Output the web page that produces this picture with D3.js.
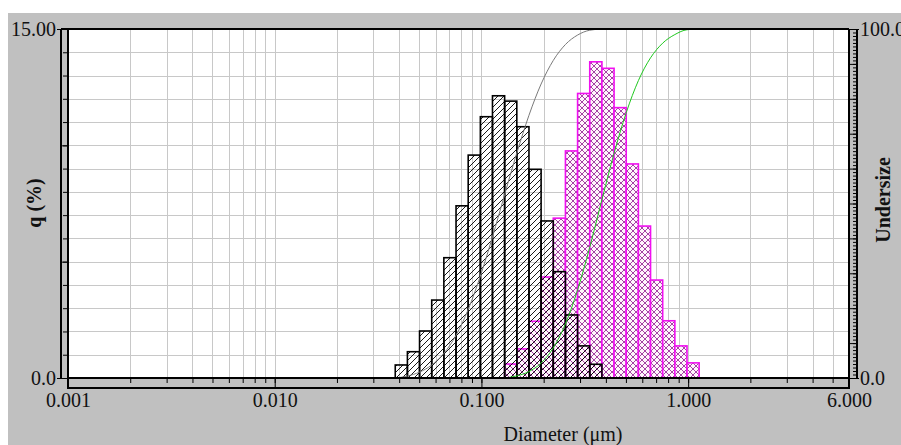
<!DOCTYPE html>
<html>
<head>
<meta charset="utf-8">
<script src="https://cdn.jsdelivr.net/npm/d3@7"></script>
<style>
  body { margin: 0; background: #fff; }
  text { font-family: "Liberation Serif", "Times New Roman", serif; }
</style>
</head>
<body>
<div id="chart"></div>
<script>
// bin edges of the size classes (um)
var binEdges = [0.03829, 0.04384, 0.05019, 0.05748, 0.06580, 0.07537, 0.08630, 0.09881,
  0.1131, 0.1295, 0.1483, 0.1698, 0.1944, 0.2226, 0.2549, 0.2919, 0.3342, 0.3827,
  0.4382, 0.5017, 0.5745, 0.6578, 0.7531, 0.8624, 0.9874, 1.1305];

// q (%) of the black (hatched) sample, starting at bin 0
var blackStart = 0;
var blackQ = [0.56, 1.13, 2.02, 3.35, 5.17, 7.40, 9.58, 11.23, 12.13, 11.90,
  10.80, 8.97, 6.75, 4.57, 2.71, 1.38, 0.59];

// q (%) of the magenta (cross hatched) sample, starting at bin 9
var magentaStart = 9;
var magentaQ = [0.60, 1.25, 2.44, 4.34, 6.87, 9.76, 12.23, 13.59, 13.31, 11.62,
  9.20, 6.53, 4.21, 2.46, 1.38, 0.65];

var xTickLabels = [0.001, 0.01, 0.1, 1, 6];

var W = 901, H = 445;
// note: "top" is taken by window.top, so plot box names are prefixed
var pLeft = 68, pRight = 849, pTop = 29, pBottom = 378;

var svg = d3.select("#chart").append("svg")
  .attr("width", W).attr("height", H);

svg.append("rect").attr("x", 8).attr("y", 13)
  .attr("width", W - 8).attr("height", H - 13).attr("fill", "#c0c0c0");
svg.append("rect").attr("x", pLeft).attr("y", pTop)
  .attr("width", pRight - pLeft).attr("height", pBottom - pTop).attr("fill", "#fff");

var x = d3.scaleLog().domain([0.001, 6]).range([pLeft, pRight]);
var yL = d3.scaleLinear().domain([0, 15]).range([pBottom, pTop]);
var yR = d3.scaleLinear().domain([0, 100]).range([pBottom, pTop]);

// patterns
var defs = svg.append("defs");
defs.append("pattern").attr("id", "hatch")
  .attr("patternUnits", "userSpaceOnUse").attr("width", 6).attr("height", 6)
  .append("path").attr("d", "M0,6L6,0M-1,1L1,-1M5,7L7,5")
  .attr("stroke", "#000").attr("stroke-width", 0.9);
var cross = defs.append("pattern").attr("id", "cross")
  .attr("patternUnits", "userSpaceOnUse").attr("width", 6).attr("height", 6);
cross.append("rect").attr("width", 6).attr("height", 6).attr("fill", "#fff6fc");
cross.append("path").attr("d", "M0,6L6,0M-1,1L1,-1M5,7L7,5M0,0L6,6M-1,5L1,7M5,-1L7,1")
  .attr("stroke", "#9a309a").attr("stroke-width", 0.9);

// grid
var grid = svg.append("g").attr("stroke", "#c8c8c8").attr("stroke-width", 1);
grid.selectAll(".gx").data(x.ticks()).enter().append("line")
  .attr("x1", function(d) { return Math.round(x(d)) + 0.5; })
  .attr("x2", function(d) { return Math.round(x(d)) + 0.5; })
  .attr("y1", pTop).attr("y2", pBottom);
grid.selectAll(".gy").data(d3.range(1, 15)).enter().append("line")
  .attr("y1", function(d) { return Math.round(yL(d)) + 0.5; })
  .attr("y2", function(d) { return Math.round(yL(d)) + 0.5; })
  .attr("x1", pLeft).attr("x2", pRight);

function bars(values, start, fill, stroke, sw) {
  svg.append("g").selectAll("rect")
    .data(values).enter().append("rect")
    .attr("x", function(d, i) { return x(binEdges[start + i]); })
    .attr("width", function(d, i) { return x(binEdges[start + i + 1]) - x(binEdges[start + i]); })
    .attr("y", function(d) { return yL(d); })
    .attr("height", function(d) { return pBottom - yL(d); })
    .attr("fill", fill).attr("stroke", stroke).attr("stroke-width", sw);
}
bars(magentaQ, magentaStart, "url(#cross)", "#f010f0", 1.6);
bars(blackQ, blackStart, "url(#hatch)", "#000", 1.6);

// cumulative undersize curves
function cumLine(values, start, color) {
  var cum = Array.from(d3.cumsum(values));
  var pts = [[binEdges[start], 0]].concat(cum.map(function(c, i) {
    return [binEdges[start + i + 1], Math.min(c, 100)];
  }));
  var line = d3.line()
    .x(function(d) { return x(d[0]); })
    .y(function(d) { return yR(d[1]); })
    .curve(d3.curveMonotoneX);
  svg.append("path").datum(pts).attr("d", line)
    .attr("fill", "none").attr("stroke", color).attr("stroke-width", 1);
}
cumLine(blackQ, blackStart, "#7a7a7a");
cumLine(magentaQ, magentaStart, "#1fc81f");

// frame
var frame = svg.append("g").attr("stroke", "#000").attr("stroke-width", 2).attr("fill", "none");
frame.append("line").attr("x1", 61).attr("x2", pRight).attr("y1", pTop).attr("y2", pTop);
frame.append("line").attr("x1", pLeft).attr("x2", pRight).attr("y1", pBottom).attr("y2", pBottom);
frame.append("line").attr("x1", pLeft).attr("x2", pLeft).attr("y1", pTop).attr("y2", 389);
frame.append("line").attr("x1", pRight).attr("x2", pRight).attr("y1", pTop).attr("y2", 389);
frame.append("line").attr("x1", pLeft).attr("x2", pRight).attr("y1", 388).attr("y2", 388);
frame.append("line").attr("x1", 61).attr("x2", 61).attr("y1", pTop).attr("y2", pBottom);
frame.append("line").attr("x1", 857).attr("x2", 857).attr("y1", pTop).attr("y2", pBottom);

function clean(g) { g.select(".domain").remove(); }

// x axis ticks
svg.append("g").attr("transform", "translate(0," + pBottom + ")")
  .call(d3.axisBottom(x).tickValues(x.ticks()).tickSize(5).tickFormat(""))
  .call(clean);
svg.append("g").attr("transform", "translate(0," + pBottom + ")")
  .call(d3.axisBottom(x).tickValues([0.001, 0.01, 0.1, 1]).tickSize(10).tickFormat(""))
  .call(clean);
svg.append("g").attr("transform", "translate(0,388)")
  .call(d3.axisBottom(x).tickValues(xTickLabels).tickSize(0).tickPadding(5)
    .tickFormat(d3.format(".3f")))
  .call(clean)
  .selectAll("text").attr("font-size", 20).attr("fill", "#111");

// left axis ticks
svg.append("g").attr("transform", "translate(" + pLeft + ",0)")
  .call(d3.axisLeft(yL).tickValues(d3.range(0, 16)).tickSize(5).tickFormat(""))
  .call(clean);
svg.append("g").attr("transform", "translate(" + pLeft + ",0)")
  .call(d3.axisLeft(yL).tickValues([5, 10]).tickSize(7).tickFormat(""))
  .call(clean);
svg.append("g").attr("transform", "translate(" + pLeft + ",0)")
  .call(d3.axisLeft(yL).tickValues([0, 15]).tickSize(11).tickPadding(1)
    .tickFormat(function(d) { return d === 0 ? "0.0" : d3.format(".2f")(d); }))
  .call(clean)
  .selectAll("text").attr("font-size", 20).attr("fill", "#111");

// right axis ticks
svg.append("g").attr("transform", "translate(857,0)")
  .call(d3.axisLeft(yR).tickValues(d3.range(0, 101)).tickSize(4).tickFormat(""))
  .call(clean);
svg.append("g").attr("transform", "translate(857,0)")
  .call(d3.axisLeft(yR).tickValues(d3.range(0, 101, 10)).tickSize(8).tickFormat(""))
  .call(clean);
svg.append("g").attr("transform", "translate(" + pRight + ",0)")
  .call(d3.axisRight(yR).tickValues([0, 100]).tickSize(10).tickPadding(1)
    .tickFormat(d3.format(".1f")))
  .call(clean)
  .selectAll("text").attr("font-size", 20).attr("fill", "#111");

// titles
svg.append("text").attr("x", 563).attr("y", 441).attr("text-anchor", "middle")
  .attr("font-size", 20).attr("fill", "#111").text("Diameter (\u03bcm)");
svg.append("text").attr("transform", "translate(41,203) rotate(-90)")
  .attr("text-anchor", "middle").attr("font-size", 20).attr("font-weight", "bold")
  .attr("fill", "#111").text("q (%)");
svg.append("text").attr("transform", "translate(890,200) rotate(-90)")
  .attr("text-anchor", "middle").attr("font-size", 20).attr("font-weight", "bold")
  .attr("fill", "#111").text("Undersize");
</script>
</body>
</html>
